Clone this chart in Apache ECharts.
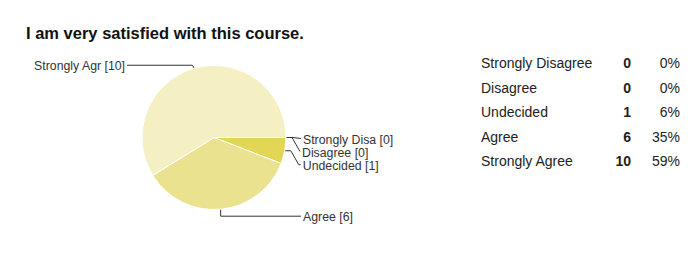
<!DOCTYPE html>
<html>
<head>
<meta charset="utf-8">
<script src="https://cdn.jsdelivr.net/npm/echarts@6/dist/echarts.min.js"></script>
<style>html,body{margin:0;padding:0;background:#fff}#c{width:700px;height:253px}</style>
</head>
<body>
<div id="c"></div>
<script>
var title = 'I am very satisfied with this course.';
var categories = ['Strongly Disagree', 'Disagree', 'Undecided', 'Agree', 'Strongly Agree'];
var shortLabels = ['Strongly Disa', 'Disagree', 'Undecided', 'Agree', 'Strongly Agr'];
var counts = [0, 0, 1, 6, 10];
var percents = ['0%', '0%', '6%', '35%', '59%'];
var colors = ['#e6da6a', '#e4d75e', '#e2d654', '#ebe290', '#f4f0c4'];

var CX = 214, CY = 137.5, R = 72;
var total = counts.reduce(function (a, b) { return a + b; }, 0);
var midAngles = [];
(function () {
  var acc = 0;
  for (var i = 0; i < counts.length; i++) {
    var a0 = acc / total * 2 * Math.PI;
    acc += counts[i];
    var a1 = acc / total * 2 * Math.PI;
    midAngles.push((a0 + a1) / 2);
  }
})();
function anchor(i) {
  var a = midAngles[i];
  return [CX + R * Math.cos(a), CY + R * Math.sin(a)];
}

var chart = echarts.init(document.getElementById('c'), null, { renderer: 'svg' });
var FF = 'Liberation Sans';
chart.setOption({
  animation: false,
  title: {
    text: title,
    left: 21,
    top: 19,
    textStyle: { fontFamily: FF, fontWeight: 'bold', fontSize: 16.5, color: '#111' }
  },
  legend: {
    orient: 'vertical',
    left: 471,
    top: 51,
    icon: 'none',
    itemWidth: 0,
    itemHeight: 14,
    itemGap: 10.6,
    selectedMode: false,
    data: categories,
    formatter: function (name) {
      var i = categories.indexOf(name);
      return '{n|' + name + '}{c|' + counts[i] + '}{p|' + percents[i] + '}';
    },
    textStyle: {
      fontFamily: FF,
      fontSize: 14,
      color: '#222',
      rich: {
        n: { width: 130, align: 'left', fontSize: 14, lineHeight: 14, color: '#222', fontFamily: FF },
        c: { width: 20, align: 'right', fontSize: 14, lineHeight: 14, fontWeight: 'bold', color: '#222', fontFamily: FF },
        p: { width: 49, align: 'right', fontSize: 14, lineHeight: 14, color: '#222', fontFamily: FF }
      }
    }
  },
  series: [{
    type: 'pie',
    center: [CX, CY],
    radius: R,
    startAngle: 0,
    clockwise: true,
    minAngle: 0,
    avoidLabelOverlap: false,
    data: categories.map(function (c, i) {
      return { name: c, value: counts[i], itemStyle: { color: colors[i] } };
    }),
    itemStyle: { borderColor: '#fff', borderWidth: 1 },
    emphasis: { disabled: true },
    label: {
      show: true,
      position: 'outside',
      fontFamily: FF,
      fontSize: 12.3,
      color: '#333',
      formatter: function (p) { return shortLabels[p.dataIndex] + ' [' + p.value + ']'; }
    },
    labelLine: { show: true, lineStyle: { color: '#333', width: 1 } },
    labelLayout: function (p) {
      var i = p.dataIndex;
      var a = anchor(i);
      var ax = a[0], ay = a[1];
      if (i === 0) {
        return { x: ax + 17, y: ay + 2, align: 'left', verticalAlign: 'middle',
          labelLinePoints: [[ax, ay], [ax + 7, ay], [ax + 15, ay + 1]] };
      } else if (i === 1) {
        return { x: ax + 16, y: ay + 15, align: 'left', verticalAlign: 'middle',
          labelLinePoints: [[ax, ay], [ax + 6, ay], [ax + 14, ay + 14]] };
      } else if (i === 2) {
        return { x: ax + 18, y: ay + 15, align: 'left', verticalAlign: 'middle',
          labelLinePoints: [[ax, ay], [ax + 6, ay], [ax + 14, ay + 14], [ax + 16, ay + 14]] };
      } else if (i === 3) {
        return { x: 303, y: ay + 8, align: 'left', verticalAlign: 'middle',
          labelLinePoints: [[ax, ay], [ax, ay + 7], [301, ay + 7]] };
      } else {
        return { x: 125, y: ay - 2, align: 'right', verticalAlign: 'middle',
          labelLinePoints: [[ax, ay], [ax - 2, ay - 3], [127, ay - 3]] };
      }
    }
  }]
});
</script>
</body>
</html>
